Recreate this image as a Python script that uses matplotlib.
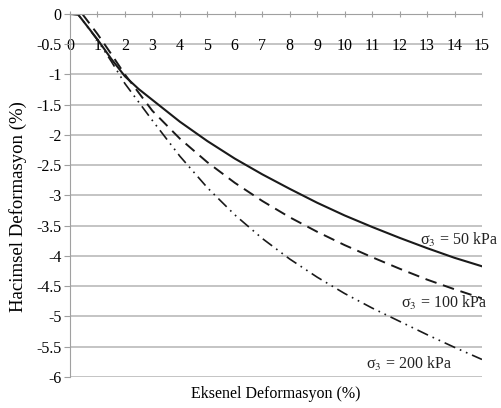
import numpy as np
import matplotlib
matplotlib.use("Agg")
from matplotlib import pyplot as plt

plt.rcParams['font.family'] = ['Liberation Serif', 'DejaVu Serif']
plt.rcParams['mathtext.fontset'] = 'stix'

# eksenel deformasyon (%) vs hacimsel deformasyon (%)
x_50 = [0, 0.3, 1, 1.5, 2, 2.5, 3, 4, 5, 6, 7, 8, 9, 10, 11, 12, 13, 14, 15]
y_50 = [0, -0.01, -0.42, -0.74, -1.03, -1.24, -1.42, -1.78, -2.1, -2.39, -2.65, -2.89,
        -3.12, -3.33, -3.52, -3.70, -3.87, -4.03, -4.17]

x_100 = [0.45, 1, 1.5, 2, 3, 4, 5, 6, 7, 8, 9, 10, 11, 12, 13, 14, 15]
y_100 = [0, -0.33, -0.66, -1.0, -1.6, -2.06, -2.45, -2.79, -3.09, -3.36, -3.6,
         -3.82, -4.02, -4.21, -4.39, -4.55, -4.7]

x_200 = [0, 0.3, 1, 1.5, 2, 3, 4, 5, 6, 7, 8, 9, 10, 11, 12, 13, 14, 15]
y_200 = [0, -0.01, -0.43, -0.78, -1.15, -1.76, -2.35, -2.87, -3.32, -3.71, -4.05,
         -4.35, -4.62, -4.86, -5.08, -5.3, -5.51, -5.71]

labels = ['σ$_3$ = 50 kPa', 'σ$_3$ = 100 kPa', 'σ$_3$ = 200 kPa']
label_pos = [(12.75, -3.74), (12.07, -4.77), (10.76, -5.78)]

xticks = list(range(0, 16))
yticks = [0, -0.5, -1, -1.5, -2, -2.5, -3, -3.5, -4, -4.5, -5, -5.5, -6]

fig = plt.figure(figsize=(5.02, 4.08), dpi=100)
ax = fig.add_axes([0.1394, 0.076, 0.8207, 0.8897])

ax.plot(x_50, y_50, color='#1a1a1a', lw=1.5, ls='-')
ax.plot(x_100, y_100, color='#1a1a1a', lw=1.4, ls=(0, (6, 3.5)))
ax.plot(x_200, y_200, color='#1a1a1a', lw=1.2, ls=(0, (7, 3, 1, 3, 1, 3)))

for txt, (tx, ty) in zip(labels, label_pos):
    ax.text(tx, ty, txt, fontsize=11.5, va='center', ha='left', color='#222222', clip_on=False)

ax.set_xlim(0, 15)
ax.set_ylim(-6, 0)
ax.set_xticks(xticks)
ax.set_yticks(yticks)
ax.set_yticklabels(['0' if v == 0 else ('%g' % v) for v in yticks])

for v in yticks[1:]:
    ax.axhline(v, color='#bababa', lw=1.2, zorder=0)

ax.spines['bottom'].set_position(('data', 0))
ax.spines['bottom'].set_color('#a0a0a0')
ax.spines['left'].set_color('#a0a0a0')
ax.spines['top'].set_visible(False)
ax.spines['right'].set_visible(False)

ax.tick_params(axis='x', direction='inout', length=5, color='#a0a0a0', pad=15, labelsize=11.5)
ax.tick_params(axis='y', direction='out', length=4, color='#a0a0a0', pad=2, labelsize=11.5)

ax.set_xlabel('Eksenel Deformasyon (%)', fontsize=11.5)
ax.xaxis.set_label_coords(0.5, -0.025)
ax.set_ylabel('Hacimsel Deformasyon (%)', fontsize=13.5)
ax.yaxis.set_label_coords(-0.105, 0.47)

fig.savefig('out.png', dpi=100)
